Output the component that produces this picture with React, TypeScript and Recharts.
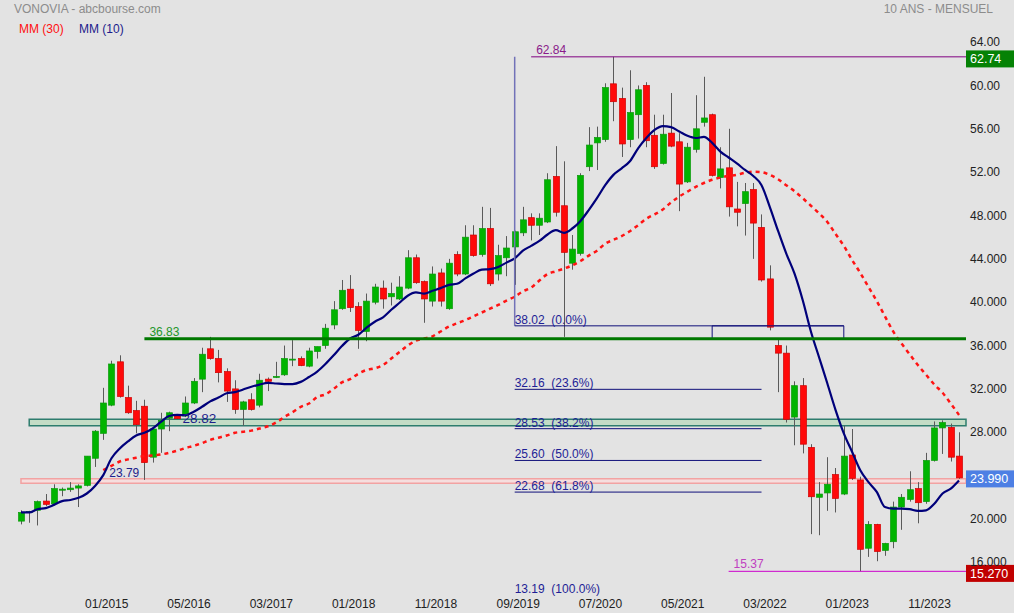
import { ComposedChart, Bar, Line, XAxis, YAxis, ReferenceLine, ReferenceArea } from 'recharts'

const FONT = '"Liberation Sans", Arial, sans-serif'

// monthly candles, oldest first
const opens = [
  20.0, 20.8, 21.0, 21.85, 21.6, 22.85, 22.9, 23.05, 23.3, 25.8,
  28.1, 30.7, 34.7, 31.4, 30.2, 30.6, 25.9, 28.5, 29.5, 29.7,
  29.7, 30.9, 33.1, 35.9, 35.0, 33.8, 32.2, 30.3, 31.2, 30.7,
  33.1, 33.3, 33.5, 34.9, 35.0, 34.3, 35.65, 36.2, 38.1, 39.6,
  41.4, 39.8, 37.5, 40.2, 41.5, 40.7, 40.5, 41.5, 44.3, 42.1,
  40.3, 42.9, 39.6, 44.6, 42.8, 46.4, 44.6, 47.0, 42.8, 44.3,
  45.3, 46.6, 48.0, 47.3, 47.6, 51.8, 49.1, 43.8, 44.7, 52.7,
  54.9, 55.2, 60.35, 59.0, 55.2, 57.5, 60.2, 55.6, 53.0, 55.8,
  55.0, 51.3, 54.3, 56.8, 57.5, 51.7, 52.6, 48.8, 49.3, 50.6,
  47.1, 42.35, 36.2, 35.5, 29.6, 32.5, 26.8, 22.2, 22.6, 24.3,
  22.5, 26.1, 23.8, 17.5, 19.7, 17.3, 18.1, 21.3, 22.0, 23.0,
  21.8, 25.6, 28.6, 28.65, 26.0,
]
const highs = [
  21.0, 20.95, 21.9, 22.5, 23.4, 23.1, 23.6, 23.4, 26.0, 28.4,
  32.3, 34.8, 35.3, 32.5, 31.1, 31.2, 28.6, 30.0, 30.1, 29.75,
  31.5, 33.2, 36.0, 37.0, 35.8, 34.1, 33.0, 31.1, 31.8, 33.6,
  33.25, 34.7, 36.2, 36.7, 35.2, 36.0, 36.1, 38.2, 40.3, 42.25,
  42.7, 40.2, 41.0, 41.9, 42.2, 42.0, 42.6, 45.0, 44.6, 42.2,
  43.5, 43.3, 44.2, 44.9, 47.3, 47.3, 49.0, 48.9, 45.5, 46.3,
  46.8, 49.0, 48.4, 48.4, 52.1, 54.6, 53.2, 46.4, 52.1, 56.35,
  56.4, 60.4, 62.84, 60.0, 61.6, 60.2, 60.5, 57.5, 57.5, 59.5,
  55.8, 54.9, 59.3, 61.0, 57.6, 54.5, 56.2, 51.3, 51.2, 51.2,
  48.3, 43.6, 36.8, 36.2, 32.9, 33.2, 27.1, 23.6, 25.9, 24.9,
  28.8, 28.5, 24.1, 20.0, 19.75, 18.0, 21.8, 22.5, 24.6, 23.6,
  26.3, 29.2, 29.3, 29.0, 28.2,
]
const lows = [
  19.7, 19.85, 19.6, 21.4, 21.5, 22.3, 22.7, 21.3, 23.2, 25.0,
  27.5, 30.6, 31.4, 29.9, 28.1, 23.8, 25.4, 26.3, 28.3, 29.4,
  29.6, 30.8, 31.9, 34.9, 32.8, 31.0, 29.9, 28.8, 30.2, 30.5,
  32.0, 33.2, 33.4, 34.3, 34.3, 34.2, 35.0, 35.9, 37.7, 39.5,
  39.3, 35.9, 36.6, 40.0, 39.6, 39.9, 40.4, 41.4, 41.9, 38.3,
  39.8, 39.8, 39.5, 42.6, 42.7, 44.4, 44.4, 41.7, 42.2, 42.6,
  41.8, 46.3, 45.9, 46.4, 47.5, 48.1, 37.0, 43.2, 44.5, 52.3,
  52.4, 55.0, 56.9, 53.6, 54.5, 55.3, 54.5, 52.5, 52.9, 54.5,
  48.6, 51.2, 54.0, 56.4, 51.8, 50.7, 48.1, 47.2, 46.35, 44.2,
  42.1, 37.6, 31.9, 29.1, 27.0, 26.25, 18.8, 18.7, 20.95, 20.8,
  22.4, 23.8, 15.37, 16.7, 16.3, 16.8, 17.5, 19.2, 21.8, 19.8,
  21.6, 25.5, 26.2, 25.5, 23.9,
]
const closes = [
  20.8, 20.9, 21.8, 21.55, 23.0, 22.95, 23.05, 23.25, 26.0, 28.3,
  30.9, 34.5, 31.5, 30.0, 28.9, 25.4, 28.5, 29.3, 30.0, 29.45,
  30.9, 32.9, 35.4, 35.0, 33.7, 32.0, 30.3, 31.0, 30.3, 33.0,
  32.9, 33.35, 35.0, 34.95, 34.35, 35.7, 36.1, 37.8, 39.5, 41.3,
  39.7, 37.6, 40.3, 41.6, 40.5, 41.0, 41.6, 44.3, 42.0, 40.5,
  42.8, 40.3, 43.8, 42.8, 46.2, 44.5, 47.0, 41.9, 44.5, 45.2,
  46.7, 47.8, 47.3, 47.95, 51.5, 48.5, 44.8, 45.1, 51.9, 54.7,
  55.4, 60.0, 58.7, 54.8, 57.7, 59.8, 55.1, 52.7, 55.7, 54.6,
  51.1, 54.5, 56.2, 57.2, 51.9, 52.5, 49.0, 48.5, 50.4, 47.5,
  42.25, 37.9, 35.5, 29.4, 32.5, 27.1, 22.25, 22.5, 23.4, 22.1,
  26.0, 23.95, 17.4, 19.7, 17.2, 17.95, 21.3, 22.2, 22.9, 21.7,
  25.6, 28.6, 29.1, 25.9, 23.99,
]
const mm10 = [
  20.8, 20.8, 21.1, 21.2, 21.5, 21.85, 21.95, 22.15, 22.55, 23.25,
  24.25, 25.8, 26.7, 27.35, 27.9, 28.15, 28.55, 29.15, 29.7, 29.8,
  29.78, 30.1, 30.55, 31.05, 31.4, 31.8, 31.9, 32.15, 32.4, 32.6,
  32.75, 32.7, 32.65, 32.65, 32.85, 33.3, 33.8, 34.5, 35.3, 36.15,
  36.85, 37.2, 37.85, 38.4, 38.8, 39.5, 40.15, 40.8, 41.1, 41.0,
  41.25, 41.5, 41.8, 41.9, 42.4, 42.85, 43.2, 43.25, 43.45, 43.85,
  44.25, 44.95, 45.4, 45.85, 46.45, 46.85, 46.6, 47.0, 47.7, 48.7,
  49.8, 51.0, 51.95, 52.55, 53.2, 54.4, 55.35, 56.1, 56.45, 56.35,
  55.95, 55.55, 55.35, 55.45, 54.9, 54.1, 53.55, 53.0, 52.4, 51.85,
  51.0, 49.0, 46.8, 44.7, 42.85, 40.4, 37.5, 35.1, 32.7, 30.25,
  28.1, 26.4, 24.7, 23.6, 22.7, 21.3, 21.15, 21.15, 21.1, 20.95,
  21.0, 21.6, 22.55, 23.0, 23.75,
]
const mm30 = [
  null, null, null, null, null, null, null, null, null, null,
  24.7, 25.1, 25.5, 25.7, 25.85, 26.0, 26.05, 26.15, 26.3, 26.5,
  26.75, 26.95, 27.2, 27.5, 27.7, 27.9, 28.15, 28.25, 28.35, 28.55,
  28.75, 29.1, 29.6, 30.05, 30.55, 30.85, 31.45, 31.7, 32.2, 32.8,
  33.1, 33.6, 33.95, 34.1, 34.4, 35.0, 35.6, 36.2, 36.65, 36.85,
  37.05, 37.5, 37.95, 38.25, 38.55, 38.9, 39.25, 39.6, 39.95, 40.35,
  40.7, 41.2, 41.55, 42.2, 42.8, 43.05, 43.3, 43.6, 44.0, 44.5,
  44.95, 45.6, 45.95, 46.3, 46.75, 47.3, 47.9, 48.3, 48.75, 49.4,
  49.95, 50.4, 50.85, 51.2, 51.5, 51.7, 51.85, 51.95, 52.15, 52.25,
  52.2, 51.95, 51.55, 51.0, 50.45, 49.8, 49.1, 48.4, 47.6, 46.5,
  45.4, 44.1, 42.9, 41.6, 40.3, 38.9, 37.5, 36.4, 35.4, 34.4,
  33.5, 32.6, 31.85, 30.85, 29.8,
]

const xTickIdx = [10, 20, 30, 40, 50, 60, 70, 80, 90, 100, 110]
const xTickLabels = ['01/2015', '05/2016', '03/2017', '01/2018', '11/2018', '09/2019', '07/2020', '05/2021', '03/2022', '01/2023', '11/2023']
const yTicks = [64, 60, 56, 52, 48, 44, 40, 36, 32, 28, 20, 16]
const yTickLabels = ['64.00', '60.00', '56.00', '52.00', '48.000', '44.000', '40.000', '36.000', '32.000', '28.000', '20.000', '16.000']

const fibLevels = [38.02, 32.16, 28.53, 25.6, 22.68, 13.19]
const fibLabels = ['38.02', '32.16', '28.53', '25.60', '22.68', '13.19']
const fibPct = ['0.0%', '23.6%', '38.2%', '50.0%', '61.8%', '100.0%']

const X_MIN = -0.85
const X_MAX = 114.85

const data = opens.map((o, i) => ({
  i,
  open: o,
  high: highs[i],
  low: lows[i],
  close: closes[i],
  range: [lows[i], highs[i]],
  mm10: mm10[i],
  mm30: mm30[i],
}))

function Candle(props: any) {
  const { x, y, width, height, payload } = props
  if (x == null || !payload) return null
  const top = Math.min(y, y + height)
  const h = Math.abs(height)
  const { open, close, high, low } = payload
  const span = high - low || 1
  const py = (v: number) => top + ((high - v) / span) * h
  const up = close >= open
  const bodyTop = py(Math.max(open, close))
  const bodyH = Math.max(1, py(Math.min(open, close)) - bodyTop)
  const cx = Math.round(x + width / 2) + 0.5
  return (
    <g>
      <line x1={cx} x2={cx} y1={top} y2={top + h} stroke="#5a5a5a" strokeWidth={1} />
      <rect
        x={cx - 3}
        y={bodyTop}
        width={6}
        height={bodyH}
        fill={up ? '#00b400' : '#ff0a0a'}
        stroke={up ? '#0c9a0c' : '#d00000'}
        strokeWidth={0.7}
      />
    </g>
  )
}

const XTick = (p: any) => {
  const k = xTickIdx.indexOf(p.payload.value)
  return (
    <text x={p.x + 3.5} y={p.y + 11} textAnchor="middle" fill="#222" fontSize={12} fontFamily={FONT}>
      {xTickLabels[k]}
    </text>
  )
}

const YTick = (p: any) => {
  const k = yTicks.indexOf(p.payload.value)
  return (
    <text x={p.x} y={p.y + 2} textAnchor="start" fill="#222" fontSize={12} fontFamily={FONT}>
      {yTickLabels[k]}
    </text>
  )
}

const textLabel = (text: string, color: string, size: number, dx: number, dy: number) => (p: any) => {
  const vb = p.viewBox || {}
  return (
    <text x={vb.x + dx} y={vb.y + dy} fill={color} fontSize={size} fontFamily={FONT}>
      {text}
    </text>
  )
}

const priceBox = (text: string, bg: string) => (p: any) => {
  const vb = p.viewBox || {}
  const x = vb.x + vb.width
  return (
    <g>
      <rect x={x} y={vb.y - 7.5} width={48} height={17} fill={bg} />
      <text x={x + 4} y={vb.y + 5.5} fill="#fff" fontSize={12.5} fontFamily={FONT}>
        {text}
      </text>
    </g>
  )
}

export default function App() {
  return (
    <div style={{ position: 'absolute', left: 0, top: 0, width: 1014, height: 613, background: '#e3e3e3', fontFamily: FONT, overflow: 'hidden' }}>
      <div style={{ position: 'absolute', left: 14, top: 2, fontSize: 12, color: '#8c8c8c' }}>VONOVIA - abcbourse.com</div>
      <div style={{ position: 'absolute', right: 21, top: 2, fontSize: 12, color: '#8c8c8c' }}>10 ANS - MENSUEL</div>
      <div style={{ position: 'absolute', left: 19, top: 22, fontSize: 12, color: '#ff1010' }}>MM (30)</div>
      <div style={{ position: 'absolute', left: 79, top: 22, fontSize: 12, color: '#1c1c8c' }}>MM (10)</div>
      <ComposedChart width={1014} height={613} data={data} margin={{ top: 28, right: 0, bottom: 0, left: 14 }}>
        <XAxis
          dataKey="i"
          type="number"
          domain={[X_MIN, X_MAX]}
          allowDataOverflow
          ticks={xTickIdx}
          tick={<XTick />}
          axisLine={false}
          tickLine={false}
          tickSize={0}
          tickMargin={0}
          height={16}
          interval={0}
        />
        <YAxis
          orientation="right"
          type="number"
          domain={[13, 65.5]}
          allowDataOverflow
          ticks={yTicks}
          tick={<YTick />}
          axisLine={false}
          tickLine={false}
          tickSize={0}
          tickMargin={4}
          width={48}
          interval={0}
        />

        <ReferenceArea x1={1} y1={28.8} y2={29.4} fill="#c4dcc6" fillOpacity={1} stroke="#2e7d6e" strokeWidth={1.5} />
        <ReferenceArea x1={0} y1={23.5} y2={23.9} fill="#f6dede" fillOpacity={1} stroke="#f2a2a2" strokeWidth={1.5} />

        <Bar dataKey="range" barSize={6} shape={<Candle />} isAnimationActive={false} />

        <Line dataKey="mm30" type="monotone" stroke="#ff1414" strokeWidth={2.5} strokeDasharray="4 4" dot={false} activeDot={false} isAnimationActive={false} />
        <Line dataKey="mm10" type="monotone" stroke="#00007a" strokeWidth={2.2} dot={false} activeDot={false} isAnimationActive={false} />

        <ReferenceLine
          segment={[{ x: 15, y: 36.83 }, { x: X_MAX, y: 36.83 }]}
          stroke="#007800"
          strokeWidth={3}
          label={textLabel('36.83', '#22962a', 12, 5, -3)}
        />
        <ReferenceLine
          segment={[{ x: 62, y: 62.84 }, { x: X_MAX, y: 62.84 }]}
          stroke="#800080"
          strokeWidth={1}
          label={textLabel('62.84', '#8a1a8a', 12, 5, -3)}
        />
        <ReferenceLine segment={[{ x: 60, y: 38.02 }, { x: 60, y: 62.84 }]} stroke="#7272b8" strokeWidth={1.5} />
        {fibLevels.map((v, k) => (
          <ReferenceLine
            key={v}
            segment={[{ x: 60, y: v }, { x: k === 0 ? 100 : 90, y: v }]}
            stroke={k === 5 ? 'none' : '#10107a'}
            strokeWidth={1}
            label={textLabel(`${fibLabels[k]}\u00a0\u00a0(${fibPct[k]})`, '#1e1e96', 12, 0, -2)}
          />
        ))}
        <ReferenceArea x1={84} x2={100} y1={36.83} y2={38.02} fill="none" stroke="#10107a" strokeWidth={1} />
        <ReferenceLine
          segment={[{ x: 86, y: 15.37 }, { x: X_MAX, y: 15.37 }]}
          stroke="#cc00cc"
          strokeWidth={1}
          label={textLabel('15.37', '#c040c0', 12, 5, -3)}
        />
        <ReferenceLine
          segment={[{ x: 20, y: 28.82 }, { x: 24, y: 28.82 }]}
          stroke="none"
          label={textLabel('28.82', '#1e1e8c', 13.5, -3, -2.4)}
        />
        <ReferenceLine
          segment={[{ x: 10, y: 23.79 }, { x: 14, y: 23.79 }]}
          stroke="none"
          label={textLabel('23.79', '#1e1e8c', 12, 6, -3)}
        />

        <ReferenceLine y={62.74} stroke="none" label={priceBox('62.74', '#058205')} />
        <ReferenceLine y={23.99} stroke="none" label={priceBox('23.990', '#4d7fe4')} />
        <ReferenceLine y={15.27} stroke="none" label={priceBox('15.270', '#c00000')} />
      </ComposedChart>
    </div>
  )
}
